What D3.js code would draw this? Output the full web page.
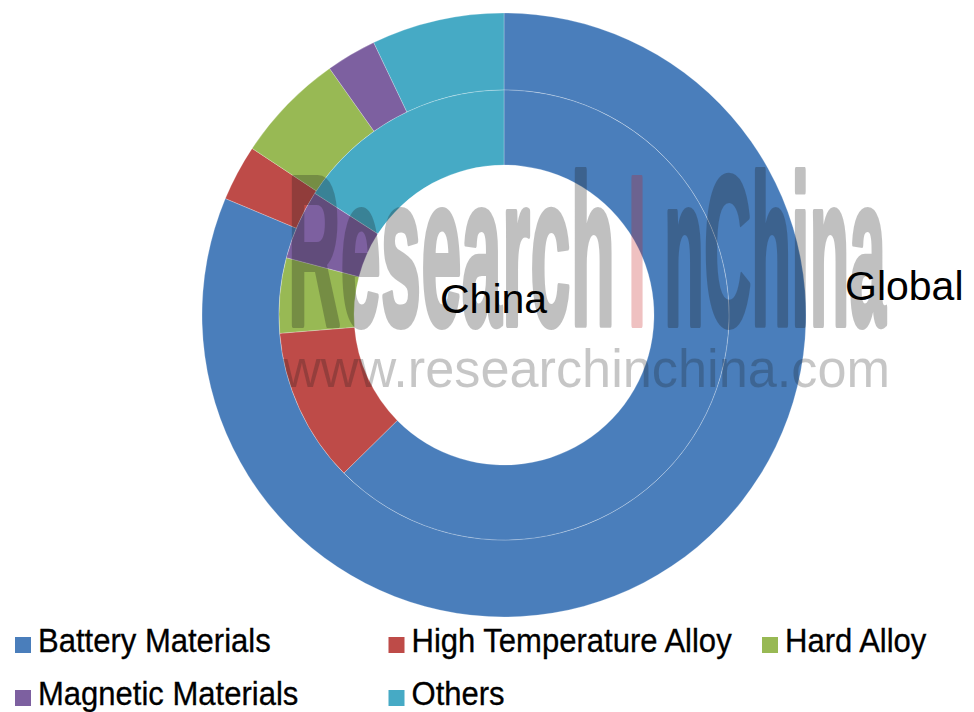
<!DOCTYPE html>
<html>
<head>
<meta charset="utf-8">
<script src="https://cdn.jsdelivr.net/npm/d3@7"></script>
<style>
  html, body { margin: 0; padding: 0; background: #fff; }
  svg { display: block; font-family: "Liberation Sans", Arial, sans-serif; }
</style>
</head>
<body>
<div id="display"></div>
<script>
// Data (share of use, %)
var categories = ['Battery Materials', 'High Temperature Alloy', 'Hard Alloy', 'Magnetic Materials', 'Others'];
var globalShare = [81.3, 3.0, 5.9, 2.7, 7.1];
var chinaShare = [62.6, 11.1, 5.4, 5.0, 15.9];
var colors = ['#4a7ebb', '#be4b48', '#98b954', '#7d60a0', '#46aac5'];

var width = 974;
var height = 712;
var cx = 504, cy = 315;
var outerR = 302, midR = 225, innerR = 150;

var svg = d3.select('#display').append('svg')
  .attr('width', width)
  .attr('height', height);

var pie = d3.pie().sort(null).value(function(d) { return d; });
var color = d3.scaleOrdinal().domain(categories).range(colors);

var rings = [
  { name: 'Global', values: globalShare, r0: midR, r1: outerR },
  { name: 'China', values: chinaShare, r0: innerR, r1: midR }
];

var chart = svg.append('g').attr('transform', 'translate(' + cx + ',' + cy + ')');

rings.forEach(function(ring) {
  var arc = d3.arc().innerRadius(ring.r0).outerRadius(ring.r1);
  chart.append('g').selectAll('path')
    .data(pie(ring.values))
    .enter().append('path')
    .attr('d', arc)
    .attr('fill', function(d, i) { return color(categories[i]); })
    .attr('stroke', '#fff')
    .attr('stroke-opacity', 0.4)
    .attr('stroke-width', 0.6);
});

// watermark (whole group faded once so thick strokes don't stack)
var wm = svg.append('g').attr('opacity', 0.27).attr('pointer-events', 'none');
var wmFont = '"Liberation Sans Narrow", "Liberation Sans", Arial, sans-serif';
[
  { t: 'Research', x: 288, w: 327, c: '#1a1a1a' },
  { t: 'I', x: 628, w: 18, c: '#c81e1e' },
  { t: 'nChina', x: 664, w: 222, c: '#1a1a1a' }
].forEach(function(p) {
  wm.append('text')
    .attr('x', p.x)
    .attr('y', 325)
    .attr('font-family', wmFont)
    .attr('font-weight', 'bold')
    .attr('font-size', 214)
    .attr('textLength', p.w)
    .attr('lengthAdjust', 'spacingAndGlyphs')
    .attr('fill', p.c)
    .attr('stroke', p.c)
    .attr('stroke-width', 6)
    .attr('stroke-linejoin', 'round')
    .text(p.t);
});
wm.append('text')
  .attr('x', 283)
  .attr('y', 387)
  .attr('font-size', 54)
  .attr('textLength', 607)
  .attr('lengthAdjust', 'spacingAndGlyphs')
  .attr('fill', '#1a1a1a')
  .attr('opacity', 0.9)
  .text('www.researchinchina.com');

// ring labels
svg.append('text')
  .attr('x', 440).attr('y', 313)
  .attr('font-size', 41)
  .attr('fill', '#000')
  .text('China');
svg.append('text')
  .attr('x', 845).attr('y', 300)
  .attr('font-size', 41)
  .attr('fill', '#000')
  .text('Global');

// legend
var legend = svg.append('g');
var items = legend.selectAll('g')
  .data(categories)
  .enter().append('g')
  .attr('transform', function(d, i) {
    var col = i < 3 ? i : i - 3;
    var row = i < 3 ? 0 : 1;
    return 'translate(' + (15 + col * 373.5) + ',' + (652 + row * 53) + ')';
  });

items.append('rect')
  .attr('x', 0).attr('y', -15)
  .attr('width', 16).attr('height', 16)
  .attr('fill', function(d) { return color(d); });

items.append('text')
  .attr('x', 23)
  .attr('y', 0)
  .attr('font-size', 33)
  .attr('fill', '#000')
  .attr('stroke', '#000')
  .attr('stroke-width', 0.3)
  .text(function(d) { return d; })
  .each(function() {
    var len = this.getComputedTextLength();
    d3.select(this)
      .attr('textLength', len * 0.94)
      .attr('lengthAdjust', 'spacingAndGlyphs');
  });
</script>
</body>
</html>
